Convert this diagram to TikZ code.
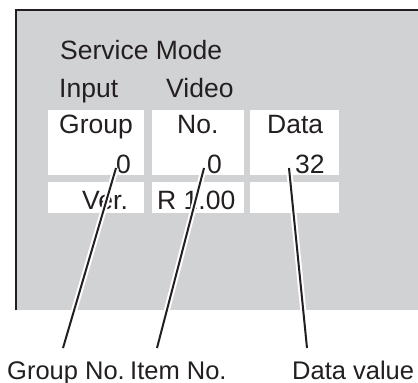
\documentclass[tikz,border=0pt]{standalone}
\usepackage{fontspec}
\setmainfont{Liberation Sans}
\usetikzlibrary{positioning}

\definecolor{panelgrey}{HTML}{D1D2D4}
\definecolor{ink}{HTML}{231F20}

\begin{document}
\begin{tikzpicture}[
  x=1pt, y=-1pt,
  txt/.style={anchor=base west, inner sep=0pt, text=ink,
              font=\fontsize{26.5}{30}\selectfont},
  lbl/.style={anchor=base west, inner sep=0pt, text=ink,
              font=\fontsize{25.5}{29}\selectfont},
  cell/.style={fill=white, inner sep=0pt, anchor=north west},
  frame/.style={draw=ink, line width=2pt},
  leader/.style={draw=ink, line width=2pt,
                 preaction={draw=white, line width=6pt}},
]
\useasboundingbox (0,0) rectangle (418,383);

% ---------------- Screen panel ----------------
\fill[panelgrey] (16,10) rectangle (418,310);
\draw[frame] (16,310) -- (16,10) -- (418,10);

% ---------------- Cells ----------------
\node[cell, minimum width=96pt, minimum height=65pt] (grpbox)  at (48,110)  {};
\node[cell, minimum width=92pt, minimum height=65pt] (nobox)   at (152,110) {};
\node[cell, minimum width=89pt, minimum height=65pt] (databox) at (250,110) {};
\node[cell, minimum width=96pt, minimum height=31pt] (verbox)  at (48,182)  {};
\node[cell, minimum width=92pt, minimum height=31pt] (revbox)  at (152,182) {};
\node[cell, minimum width=89pt, minimum height=31pt] (blankbox) at (250,182) {};

% ---------------- Screen texts ----------------
\node[txt] (title) at (60,59)  {Service Mode};
\node[txt] (input) at (59,97)  {Input};
\node[txt] (video) at (166,97) {Video};
\node[txt] (group) at (59,133)  {Group};
\node[txt] (no)    at (177,133) {No.};
\node[txt] (data)  at (267,133) {Data};
\node[txt] (gval)  at (116,173) {0};
\node[txt] (nval)  at (207,173) {0};
\node[txt] (dval)  at (295,173) {32};
\node[txt] (ver)   at (82,209)  {Ver.};
\node[txt] (rev)   at (157,209) {R 1.00};

% ---------------- Callout labels ----------------
\node[lbl] (glbl) at (7,379)   {Group No.};
\node[lbl] (ilbl) at (130,379) {Item No.};
\node[lbl] (dlbl) at (292,379) {Data value};

\coordinate (gtop) at (116,168);
\coordinate (itop) at (204,168);
\coordinate (dtop) at (289,168);
\coordinate (gfoot) at (63,348);
\coordinate (ifoot) at (157,348);
\coordinate (dfoot) at (307,348);

\draw[leader] (gtop) -- (gfoot);
\draw[leader] (itop) -- (ifoot);
\draw[leader] (dtop) -- (dfoot);

\end{tikzpicture}
\end{document}
